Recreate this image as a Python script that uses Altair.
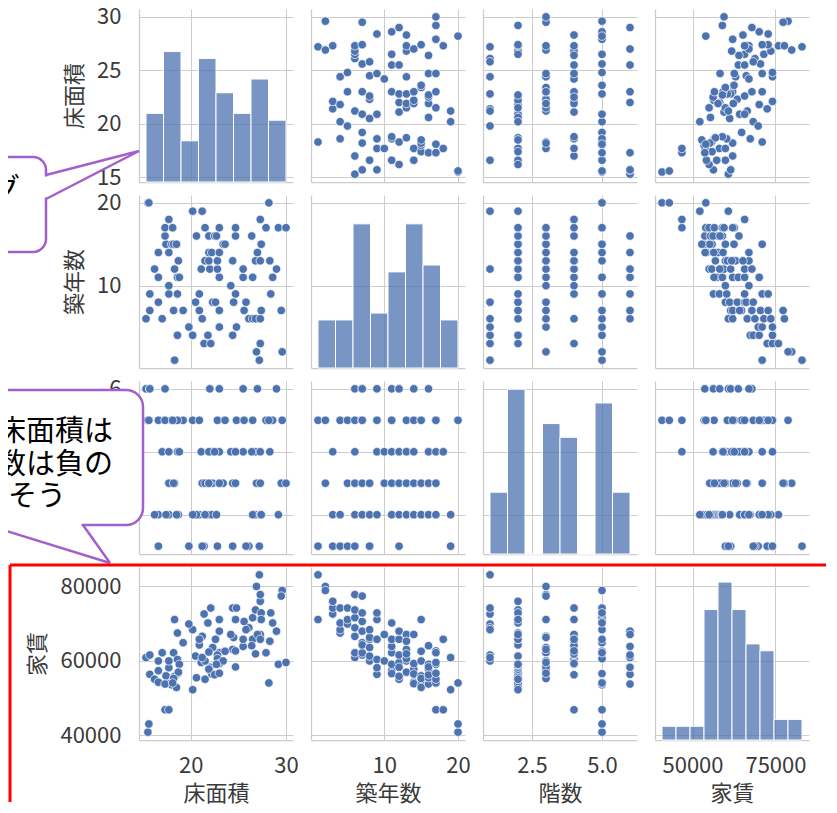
import altair as alt
import numpy as np
import pandas as pd

# ---- data (one record per room) ----
area = [27.2, 18.3, 26.9, 29.6, 21.4, 22.1, 27.3, 18.6, 20.2, 21.8,
        24.4, 19.8, 23.0, 24.8, 15.3, 17.0, 21.2, 26.1, 26.5, 26.8,
        27.3, 15.7, 18.2, 19.2, 20.9, 23.0, 25.6, 27.4, 29.5, 16.6,
        20.5, 22.3, 22.6, 24.5, 25.8, 15.7, 17.7, 18.6, 20.9, 24.7,
        28.4, 17.7, 24.2, 16.6, 18.6, 18.8, 23.0, 25.5, 26.5, 28.6,
        16.2, 18.3, 21.1, 22.0, 22.8, 25.5, 29.0, 18.7, 21.5, 21.9,
        22.8, 24.4, 26.8, 27.3, 28.3, 16.6, 17.7, 21.9, 22.2, 23.0,
        27.0, 17.4, 18.0, 18.2, 18.5, 23.4, 23.6, 27.4, 17.3, 20.6,
        21.9, 22.5, 22.7, 24.7, 26.4, 17.3, 18.1, 21.5, 23.0, 24.7,
        27.9, 29.2, 30.0, 17.7, 27.3, 20.2, 21.2, 15.5, 15.6, 28.2]
age = [1, 1, 2, 2, 3, 3, 3, 4, 4, 4,
       4, 5, 5, 5, 6, 6, 6, 6, 6, 6,
       6, 7, 7, 7, 7, 7, 7, 7, 7, 8,
       8, 8, 8, 8, 8, 9, 9, 9, 9, 9,
       9, 10, 10, 11, 11, 11, 11, 11, 11, 11,
       12, 12, 12, 12, 12, 12, 12, 13, 13, 13,
       13, 13, 13, 13, 13, 14, 14, 14, 14, 14,
       14, 15, 15, 15, 15, 15, 15, 15, 16, 16,
       16, 16, 16, 16, 16, 17, 17, 17, 17, 17,
       17, 17, 17, 18, 18, 19, 19, 20, 20, 20]
floor = [1, 5, 3, 5, 1, 4, 2, 2, 5, 2,
         1, 1, 3, 5, 6, 4, 3, 1, 5, 2,
         3, 6, 5, 5, 2, 6, 5, 2, 3, 1,
         2, 3, 2, 3, 1, 6, 2, 4, 5, 4,
         5, 3, 4, 2, 5, 4, 3, 6, 2, 5,
         2, 3, 4, 6, 1, 4, 6, 2, 3, 4,
         5, 3, 4, 2, 4, 5, 2, 3, 2, 4,
         6, 2, 5, 3, 2, 3, 5, 2, 6, 2,
         3, 4, 2, 3, 4, 5, 5, 2, 3, 4,
         5, 2, 3, 4, 4, 2, 1, 5, 5, 5]
rent = [83000, 71000, 79900, 78800, 72500, 74100, 75900, 67400, 68300, 70100,
        74100, 69800, 71000, 74100, 60800, 62100, 66500, 68800, 71500, 73600,
        77700, 61500, 62100, 64800, 64200, 67900, 70500, 72800, 77300, 59900,
        61200, 63500, 65700, 66200, 68300, 56300, 58100, 60300, 65700, 71000,
        72800, 59900, 67000, 57300, 56500, 59000, 62100, 63800, 65700, 70100,
        55000, 55800, 59500, 58200, 61500, 65700, 67900, 56900, 59900, 62300,
        60500, 63000, 61800, 67000, 65200, 54200, 53800, 57700, 56400, 59200,
        67000, 55900, 53500, 55200, 52800, 59900, 62500, 71000, 53700, 55400,
        57700, 56200, 59000, 58300, 64000, 46800, 54000, 55000, 56600, 62600,
        62100, 59000, 59500, 46800, 65700, 52200, 60800, 40800, 43000, 54000]

VARS = ["床面積", "築年数", "階数", "家賃"]
X_TICKS = {"床面積": [20, 30], "築年数": [10, 20], "階数": [2.5, 5.0], "家賃": [50000, 75000]}
Y_TICKS = {"床面積": [15, 20, 25, 30], "築年数": [10, 20], "階数": [2, 4, 6],
           "家賃": [40000, 60000, 80000]}
X_FMT = {"床面積": "d", "築年数": "d", "階数": ".1f", "家賃": "d"}
Y_FMT = {"床面積": "d", "築年数": "d", "階数": "d", "家賃": "d"}
N_BINS = {"床面積": 8, "築年数": 8, "階数": 8, "家賃": 10}
# labels of row 3 hidden behind the callout in the reference
HIDDEN_Y_LABEL_EXPR = {"階数": "datum.value == 6 ? '6' : ''"}
HIDDEN_Y_TITLE = ["階数"]

CALLOUT1_TEXT = ["グ"]
CALLOUT2_TEXT = ["床面積は", "数は負の", "そう"]

df = pd.DataFrame({"床面積": area, "築年数": age, "階数": floor, "家賃": rent})

BLUE = "#4c72b0"
PURPLE = "#a35fcb"
FONT = "Noto Sans CJK JP"
W, H = 154, 173
COL0_X = 139
ROW_Y = [7, 193, 379, 565]
annot_df = pd.DataFrame({"k": [0]})

# histograms on the diagonal share one count axis (as seaborn's pairplot does)
HISTS = {}
for v in VARS:
    cnt, edg = np.histogram(df[v].to_numpy(dtype=float), bins=N_BINS[v])
    HISTS[v] = pd.DataFrame({"start": edg[:-1], "end": edg[1:],
                             "count": cnt.astype(float), "zero": 0.0})
DIAG_MAX = max(float(h["count"].max()) for h in HISTS.values()) * 1.05


def domain(v):
    lo, hi = float(df[v].min()), float(df[v].max())
    pad = 0.05 * (hi - lo)
    return [lo - pad, hi + pad]


def xenc(v, show, field=None):
    return alt.X(f"{field or v}:Q",
                 scale=alt.Scale(domain=domain(v), nice=False, zero=False),
                 axis=alt.Axis(values=X_TICKS[v], format=X_FMT[v], labels=show,
                               grid=True, ticks=False, tickSize=0, domain=True),
                 title=v if show else None)


def yenc(v, show):
    kw = dict(values=Y_TICKS[v], format=Y_FMT[v], labels=show, grid=True,
              ticks=False, tickSize=0, domain=True)
    if show and v in HIDDEN_Y_LABEL_EXPR:
        kw["labelExpr"] = HIDDEN_Y_LABEL_EXPR[v]
    title = v if (show and v not in HIDDEN_Y_TITLE) else None
    return alt.Y(f"{v}:Q",
                 scale=alt.Scale(domain=domain(v), nice=False, zero=False),
                 axis=alt.Axis(**kw), title=title)


def vrect(row, x1, x2, y1, y2, **kw):
    return alt.Chart(annot_df).mark_rect(**kw).encode(
        x=alt.value(x1 - COL0_X), x2=alt.value(x2 - COL0_X),
        y=alt.value(y1 - ROW_Y[row]), y2=alt.value(y2 - ROW_Y[row]))


def vrule(row, x1, y1, x2, y2, **kw):
    return alt.Chart(annot_df).mark_rule(**kw).encode(
        x=alt.value(x1 - COL0_X), x2=alt.value(x2 - COL0_X),
        y=alt.value(y1 - ROW_Y[row]), y2=alt.value(y2 - ROW_Y[row]))


def vtext(row, txt, x, y, align):
    return alt.Chart(annot_df).mark_text(
        text=txt, align=align, baseline="middle", font=FONT, fontSize=29,
        color="black").encode(x=alt.value(x - COL0_X), y=alt.value(y - ROW_Y[row]))


def annotations(r):
    if r == 0:
        return [
            vrect(0, -20, 46, 155, 250, fill="white", stroke=PURPLE, strokeWidth=2.5,
                  cornerRadius=13),
            vrect(0, 43.5, 48.5, 174.5, 195.5, fill="white", strokeWidth=0),
            vrule(0, 46, 173, 139, 149, color=PURPLE, strokeWidth=2.5),
            vrule(0, 46, 197, 139, 149, color=PURPLE, strokeWidth=2.5),
            vtext(0, CALLOUT1_TEXT[0], 20, 188, "right"),
        ]
    if r == 2:
        return [
            vrect(2, -20, 143, 388, 523, fill="white", stroke=PURPLE, strokeWidth=2.5,
                  cornerRadius=17),
            vrect(2, -20, 81.5, 520.5, 525.5, fill="white", strokeWidth=0),
            vrule(2, -13, 523, 110, 561, color=PURPLE, strokeWidth=2.5),
            vrule(2, 83, 523, 110, 561, color=PURPLE, strokeWidth=2.5),
            vtext(2, CALLOUT2_TEXT[0], -3, 430, "left"),
            vtext(2, CALLOUT2_TEXT[1], -3, 463, "left"),
            vtext(2, CALLOUT2_TEXT[2], 8, 495, "left"),
        ]
    if r == 3:
        return [
            vrule(3, 10, 563, 826, 563, color="#ff0000", strokeWidth=3),
            vrule(3, 10, 563, 10, 800, color="#ff0000", strokeWidth=3),
        ]
    return []


def panel(r, c):
    xv, yv = VARS[c], VARS[r]
    showx, showy = (r == 3), (c == 0)
    extra = annotations(r) if c == 0 else []
    if r == c:
        ghost = alt.Chart(df).mark_circle(opacity=0).encode(
            x=xenc(xv, showx), y=yenc(yv, showy))
        bars = alt.Chart(HISTS[xv]).mark_bar(color=BLUE, fillOpacity=0.75, stroke="white",
                                             strokeWidth=1).encode(
            x=xenc(xv, showx, "start"), x2="end:Q",
            y=alt.Y("count:Q", scale=alt.Scale(domain=[0, DIAG_MAX], nice=False),
                    axis=None),
            y2="zero:Q")
        ch = alt.layer(ghost, bars, *extra).resolve_scale(y="independent")
    else:
        pts = alt.Chart(df).mark_circle(size=72, color=BLUE, opacity=1, stroke="white",
                                        strokeWidth=0.7).encode(
            x=xenc(xv, showx), y=yenc(yv, showy))
        ch = alt.layer(pts, *extra) if extra else pts
    return ch.properties(width=W, height=H)


panels = [panel(r, c) for r in range(4) for c in range(4)]

chart = alt.concat(*panels, columns=4, spacing={"row": 13, "column": 18},
                   bounds="flush").properties(
    padding={"left": -30, "top": -3, "right": 0, "bottom": 0}
).configure_axis(
    gridColor="#cccccc", gridWidth=1, domainColor="#cccccc", domainWidth=1.25,
    labelFont=FONT, labelFontSize=22, labelColor="#3a3a3a",
    titleFont=FONT, titleFontSize=22, titleFontWeight="normal", titleColor="#3a3a3a",
).configure_axisX(labelPadding=15, titlePadding=7).configure_axisY(
    labelPadding=18, titlePadding=10
).configure_view(stroke=None)

chart.save("out.html", embed_options={"renderer": "svg", "actions": False})
